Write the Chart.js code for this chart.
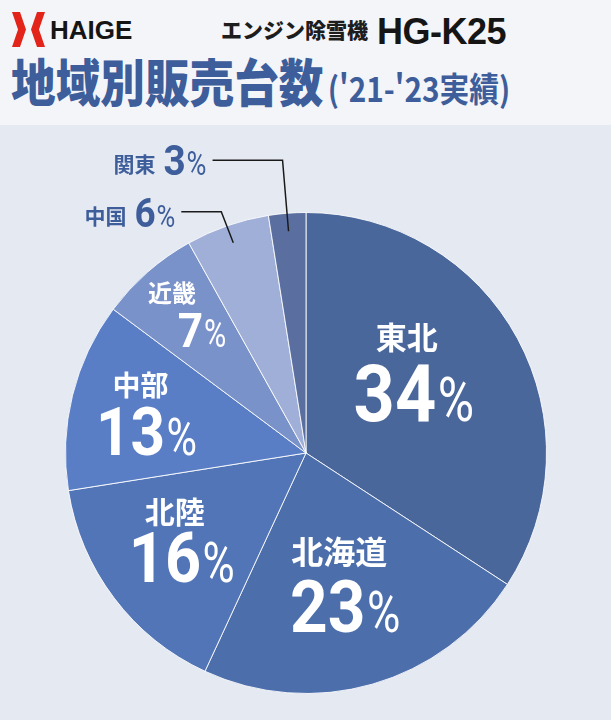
<!DOCTYPE html>
<html lang="ja">
<head>
<meta charset="utf-8">
<title>地域別販売台数</title>
<script src="https://cdn.jsdelivr.net/npm/chart.js@4.4.1/dist/chart.umd.min.js"></script>
<style>
html, body { margin: 0; padding: 0; }
body { width: 611px; height: 720px; background: #e5e9f2; position: relative; overflow: hidden; font-family: "Noto Sans CJK JP", sans-serif; }
.header { position: absolute; left: 0; top: 0; width: 611px; height: 125px; background: #f4f5f9; }
.mark { position: absolute; top: 12px; width: 14px; height: 35px; background: #e3241b; }
.mark.l { left: 12px; clip-path: polygon(0 0, 57% 0, 100% 50%, 57% 100%, 0 100%, 43% 50%); }
.mark.r { left: 31px; clip-path: polygon(100% 0, 43% 0, 0 50%, 43% 100%, 100% 100%, 57% 50%); }
.brand { position: absolute; left: 50px; top: 17px; font: bold 26px "Liberation Sans", Arial, sans-serif; line-height: 26px; color: #151515; }
.product { position: absolute; left: 221px; top: 19px; font-weight: 900; font-size: 21px; line-height: 21px; color: #1d1d1d; }
.model { position: absolute; left: 377px; top: 14px; font: bold 36px "Liberation Sans", Arial, sans-serif; line-height: 36px; color: #151515; letter-spacing: -0.5px; }
.title { position: absolute; left: 11px; top: 55px; font-weight: 900; font-size: 51px; line-height: 51px; color: #3d5e9a; transform: scaleX(0.875); transform-origin: left top; white-space: nowrap; }
.title small { font-size: 34px; font-weight: bold; margin-left: 5px; }
.chart-box { position: absolute; left: 0; top: 125px; width: 611px; height: 595px; }
</style>
</head>
<body>
<div class="header">
    <div class="mark l"></div>
    <div class="mark r"></div>
    <div class="brand">HAIGE</div>
    <div class="product">エンジン除雪機</div>
    <div class="model">HG-K25</div>
    <div class="title">地域別販売台数<small>('21-'23実績)</small></div>
</div>
<div class="chart-box"><canvas id="pie"></canvas></div>
<script>
// regions, clockwise from 12 o'clock
var regions = ['東北', '北海道', '北陸', '中部', '近畿', '中国', '関東'];
// slice sizes as drawn (share of the circle, %)
var shares = [34.2, 22.7, 15.6, 12.7, 6.7, 5.6, 2.5];
// printed percentages
var percentLabels = ['34', '23', '16', '13', '7', '6', '3'];

var sliceColors = ['#4a679c', '#4c6eab', '#5175b6', '#5a7ec6', '#7a92ca', '#a0afd7', '#5a6fa0'];

// label styling per slice
var digitSize = [80, 73, 70, 67, 49, 41, 43];
var nameSize = [31, 32, 30, 28, 24, 21, 21];
var labelRadius = [0.515, 0.655, 0.675, 0.67, 0.67];
var labelTurn = [-1, 1.6, -3, -6, 1];
var nameDx = [-7, -6, -7, -6, -30];
var nameDy = [-55, -54, -46, -46, -37];
// callouts for the two thin slices (中国, 関東)
var calloutDx = [null, null, null, null, null, -12, -6];
var calloutDy = [null, null, null, null, null, -31, -71];
var calloutLen = [null, null, null, null, null, 40, 70];

var outsideColor = '#3d5e9a';

(function() {
    /**
     * Draw a condensed number followed by a thin percent sign.
     * @return {number} width of the block
     */
    function numberBlock(ctx, text, size, x, baseline, color, measureOnly) {
        var sx = 0.9, psx = 0.8, pSize = Math.round(size * 0.78), gap = size * 0.02;
        ctx.font = 'bold ' + size + 'px Roboto, "Liberation Sans", sans-serif';
        var w1 = ctx.measureText(text).width * sx;
        ctx.font = '400 ' + pSize + 'px Roboto, "Liberation Sans", sans-serif';
        var w2 = ctx.measureText('%').width * psx;
        if (!measureOnly) {
            ctx.fillStyle = color;
            ctx.textAlign = 'left';
            ctx.textBaseline = 'alphabetic';
            ctx.save();
            ctx.translate(x, baseline);
            ctx.scale(sx, 1);
            ctx.font = 'bold ' + size + 'px Roboto, "Liberation Sans", sans-serif';
            ctx.fillText(text, 0, 0);
            ctx.restore();
            ctx.save();
            ctx.translate(x + w1 + gap, baseline);
            ctx.scale(psx, 1);
            ctx.font = '400 ' + pSize + 'px Roboto, "Liberation Sans", sans-serif';
            ctx.fillText('%', 0, 0);
            ctx.restore();
        }
        return w1 + gap + w2;
    }

    var regionLabels = {
        id: 'regionLabels',
        afterDatasetsDraw: function(chart) {
            var ctx = chart.ctx,
                meta = chart.getDatasetMeta(0);

            meta.data.forEach(function(arc, i) {
                var p = arc.getProps(['x', 'y', 'startAngle', 'endAngle', 'outerRadius'], true),
                    mid = (p.startAngle + p.endAngle) / 2;

                ctx.save();
                if (calloutLen[i]) {
                    // leader line from slice to the label on the left
                    var sx = p.x + Math.cos(mid) * p.outerRadius * 0.925,
                        sy = p.y + Math.sin(mid) * p.outerRadius * 0.925,
                        ex = sx + calloutDx[i],
                        ey = sy + calloutDy[i],
                        lx = ex - calloutLen[i];
                    ctx.strokeStyle = '#1a1a1a';
                    ctx.lineWidth = 1.5;
                    ctx.beginPath();
                    ctx.moveTo(sx, sy);
                    ctx.lineTo(ex, ey);
                    ctx.lineTo(lx, ey);
                    ctx.stroke();

                    var right = lx - 6,
                        w = numberBlock(ctx, percentLabels[i], digitSize[i], 0, 0, outsideColor, true);
                    numberBlock(ctx, percentLabels[i], digitSize[i], right - w, ey + 15, outsideColor);
                    ctx.font = 'bold ' + nameSize[i] + 'px "Noto Sans CJK JP", sans-serif';
                    ctx.fillStyle = outsideColor;
                    ctx.textAlign = 'right';
                    ctx.textBaseline = 'middle';
                    ctx.fillText(regions[i], right - w - 8, ey + 4);
                } else {
                    var a = mid + labelTurn[i] * Math.PI / 180,
                        r = p.outerRadius * labelRadius[i],
                        cx = p.x + Math.cos(a) * r,
                        cy = p.y + Math.sin(a) * r,
                        capHalf = digitSize[i] * 0.711 / 2,
                        bw = numberBlock(ctx, percentLabels[i], digitSize[i], 0, 0, '#fff', true);
                    numberBlock(ctx, percentLabels[i], digitSize[i], cx - bw / 2, cy + capHalf, '#ffffff');
                    ctx.font = 'bold ' + nameSize[i] + 'px "Noto Sans CJK JP", sans-serif';
                    ctx.fillStyle = '#ffffff';
                    ctx.textAlign = 'center';
                    ctx.textBaseline = 'middle';
                    ctx.fillText(regions[i], cx + nameDx[i], cy + nameDy[i]);
                }
                ctx.restore();
            });
        }
    };

    new Chart(document.getElementById('pie').getContext('2d'), {
        type: 'pie',
        data: {
            labels: regions,
            datasets: [{
                data: shares,
                backgroundColor: sliceColors,
                borderColor: 'rgba(255,255,255,0.85)',
                borderWidth: 1
            }]
        },
        options: {
            responsive: true,
            maintainAspectRatio: false,
            animation: false,
            layout: {
                padding: { left: 65, right: 64, top: 87, bottom: 26 }
            },
            plugins: {
                legend: { display: false },
                tooltip: { enabled: false }
            }
        },
        plugins: [regionLabels]
    });
}());
</script>
</body>
</html>
